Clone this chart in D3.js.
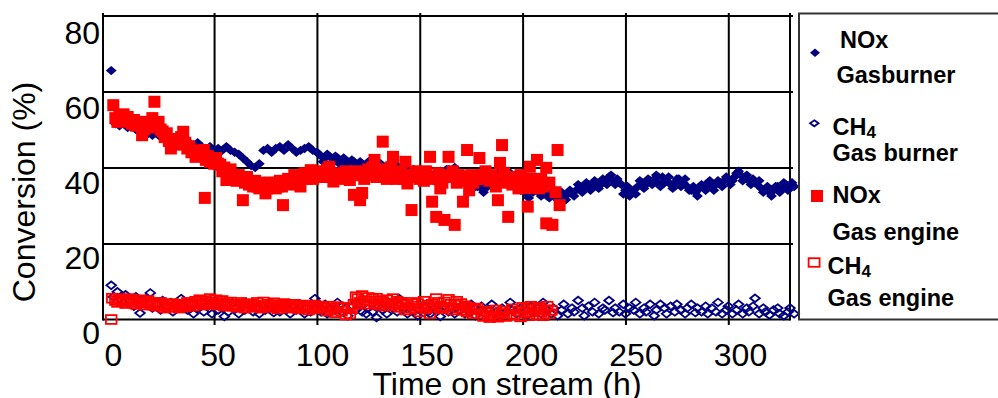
<!DOCTYPE html>
<html>
<head>
<meta charset="utf-8">
<script src="https://cdn.jsdelivr.net/npm/d3@7"></script>
<style>
  body { margin: 0; background: #fff; }
  svg { display: block; font-family: "Liberation Sans", Arial, sans-serif; }
</style>
</head>
<body>
<svg id="chart" width="998" height="398"></svg>
<script>
const xTicks = [0, 50, 100, 150, 200, 250, 300];
const yTicks = [0, 20, 40, 60, 80];

// [time on stream (h), conversion (%)]
const noxBurner = [
  [0,65.5],[2,51.5],[4,51],[6,52],[8,50.5],[10,51],[12,50],[14,50.5],[16,49.5],[18,49],
  [20,48.5],[22,49],[24,48],[26,48.5],[28,47.5],[30,47],[32,47.5],[34,46.5],[36,47],[38,46.5],
  [40,46],[42,46.5],[44,45.5],[46,45],[48,45.5],[50,44.5],[52,45],[54,44.5],[56,45.5],[58,44.5],
  [60,44],[62,43.5],[64,42.5],[66,41.5],[68,40.5],[70,40],[72,41],[74,44.5],[76,45],[78,44],
  [80,45],[82,45.5],[84,44.5],[86,46],[88,45],[90,44],[92,44.5],[94,45],[96,45.5],[98,44.5],
  [100,44],[102,43],[104,42.5],[106,43],[108,42],[110,42.5],[112,41.5],[114,42],[116,41],[118,41.5],
  [120,40.5],[122,41],[124,40],[126,40.5],[128,41.5],[130,40.5],[132,40],[134,40.5],[136,39.5],[138,40],
  [140,39],[142,39.5],[144,39],[146,38.5],[148,39],[150,38],[152,37.5],[154,38],[156,37.5],[158,38.5],
  [160,39],[162,38.5],[164,39.5],[166,39],[168,38.5],[170,37.5],[172,36.5],[174,35.5],[176,36.5],[178,35],
  [180,34.5],[182,36],[184,37.5],[186,38],[188,38.5],[190,39],[192,38.5],[194,37.5],[196,36.5],[198,35],
  [200,34],[202,33],[204,34.5],[206,34],[208,33.5],[210,33],[212,32.5],[214,33],[216,32.5],[218,33],
  [220,32.5],[222,33],[224,33.5],[226,34],[228,35],[230,34.5],[232,35.5],[234,35],[236,36],[238,35.5],
  [240,36.5],[242,37.5],[244,36.5],[246,37],[248,35.5],[250,34],[252,32.5],[254,34],[256,35],[258,36],
  [260,35.5],[262,36.5],[264,37],[266,36],[268,37.5],[270,36.5],[272,35.5],[274,36],[276,37],[278,36],
  [280,35],[282,34],[284,33.5],[286,34.5],[288,35],[290,36],[292,35],[294,35.5],[296,36],[298,36.5],
  [300,37],[302,36.5],[304,38.5],[306,38],[308,37],[310,36.5],[312,37],[314,35.5],[316,34.5],[318,34],
  [320,33.5],[322,34],[324,35],[326,34.5],[328,35.5],[330,35],[332,35],
  [101,43.5],[103,41.5],[105,43.5],[107,41],[109,43],[111,41],[113,42.5],[115,40.5],[117,42],[119,40],
  [121,41.5],[123,39.5],[125,41.5],[127,40],[129,39.5],[131,41],[133,39],[135,40],[137,38.5],[139,40.5],
  [141,38],[143,40],[145,38],[147,39.5],[149,37.5],[151,38.5],[153,36.5],[155,38.5],[157,36.5],[159,37.5],
  [161,38],[163,39.5],[165,38],[167,40],[169,37],[171,38],[173,35.5],[175,37],[177,35],[179,36],
  [181,33.5],[183,35],[185,36.5],[187,37],[189,37.5],[191,38],[193,39],[195,36.5],[197,37],[199,34],
  [201,35],[203,32],[205,33.5],[207,35],[209,32.5],[211,34],[213,32],[215,33.5],[217,31.5],[219,33.5],
  [221,31.5],[223,34],[225,32.5],[227,35.5],[229,33.5],[231,36],[233,34],[235,36.5],[237,34.5],[239,37],
  [241,35.5],[243,38],[245,35.5],[247,36],[249,33],[251,35],[253,33.5],[255,33],[257,36.5],[259,34.5],
  [261,37],[263,35.5],[265,38],[267,35],[269,36],[271,37.5],[273,34.5],[275,37],[277,35],[279,37],
  [281,34],[283,35],[285,32.5],[287,35.5],[289,34],[291,36.5],[293,34],[295,36.5],[297,35],[299,37.5],
  [301,35.5],[303,37.5],[305,39],[307,36.5],[309,38],[311,35.5],[313,36],[315,36.5],[317,33.5],[319,35],
  [321,32.5],[323,35],[325,33.5],[327,36],[329,34],[331,36]
];

const ch4Burner = [
  [0,9],[1,6],[3,7.3],[4,5.5],[6,4.5],[7,6.5],[9,5],[11,3.5],[12,6],[14,1.7],[15,4.5],[17,5.5],
  [19,7],[20,3],[22,4],[24,2.5],[25,5],[27,3.5],[29,4.5],[30,2],[32,3],[34,5.5],[35,3.5],[37,2.5],
  [39,4],[40,1.5],[42,3],[44,4.5],[45,2],[47,3.5],[49,1.5],[50,4],[52,2.5],[54,3],[55,0.8],[57,2],
  [59,4.5],[60,3],[62,1.5],[64,3.5],[65,2.5],[67,4],[69,2],[70,3],[72,1.5],[74,3.5],[75,2.5],[77,4.5],
  [79,1.8],[80,3],[82,2],[84,4],[85,2.5],[87,1.5],[89,3.5],[90,2.5],[92,4],[94,1.5],[95,3],[97,2],
  [99,5.5],[100,3],[102,2],[104,4],[105,1.5],[107,3],[109,2.5],[110,4.5],[112,2],[114,3],[115,1],[117,3.5],
  [119,2.5],[120,4],[122,2],[124,1.5],[125,3],[127,2],[129,0.5],[130,3.5],[132,2.5],[134,1.5],[135,4],[137,3],
  [139,2],[140,5.5],[142,3],[144,1.5],[145,3.5],[147,2],[149,1],[150,2.5],[152,3.5],[154,2],[155,1.5],[157,3],
  [159,2.5],[160,0.8],[162,3.5],[164,2],[165,3],[167,1.5],[169,2.5],[170,3.5],[172,1.5],[174,2.5],[175,4],[177,1],
  [179,2.5],[180,3.5],[182,1.5],[184,2.5],[185,4],[187,2],[189,1],[190,3],[192,2],[194,4.5],[195,2.5],[197,1.5],
  [199,3],[200,2],[202,1],[204,3.5],[205,2],[207,3],[209,1.5],[210,4.5],[212,2.5],[214,1.5],[215,3],[217,1],
  [219,2.5],[220,4],[222,1.5],[224,3],[225,2],[227,5],[229,3],[230,1],[232,3.5],[234,2],[235,4.5],[237,1.5],
  [239,3],[240,2.5],[242,5],[244,1.8],[245,3],[247,2],[249,4],[250,1.5],[252,3],[254,2.5],[255,4.5],[257,1.5],
  [259,3],[260,2],[262,4],[264,1],[265,2.5],[267,4],[269,3],[270,1.5],[272,3.5],[274,2],[275,4],[277,2.5],
  [279,1.5],[280,3],[282,4],[284,1.8],[285,3],[287,2],[289,3.5],[290,1.5],[292,3],[294,2],[295,4.5],[297,1.5],
  [299,2.5],[300,3.5],[302,1.5],[304,2.5],[305,4],[307,1.5],[309,3],[310,2],[312,3.5],[313,5.6],[315,1.5],[317,3],
  [318,2],[320,1.2],[322,2.5],[324,3],[325,1.5],[327,1],[329,2],[330,3],[332,1.5]
];

const noxEngine = [
  [1,56.4],[2,53],[3,52],[4,53.5],[5,52.5],[6,54],[7,53],[8,53.3],[9,52],[10,51.5],[11,52.5],[12,51],
  [13,52],[14,52],[15,48.5],[16,50],[17,51],[18,50.5],[19,52],[20,53],[21,57.3],[22,51],[23,52],[24,50],
  [25,49.5],[26,48],[27,49],[28,47],[29,45],[30,46.5],[31,47.5],[32,46],[33,47],[34,48],[35,49.4],[36,46.5],
  [37,45],[38,45.5],[39,44],[40,44.5],[41,42.8],[42,43.5],[43,44],[44,43],[45,44.6],[45.5,32],[46,42],[47,43],
  [48,41.5],[49,42],[50,41],[51,42.5],[52,41],[53,40.7],[54,39],[55,40],[56,36.7],[57,38.5],[58,39.5],[59,37.5],
  [60,38],[61,36.5],[62,38],[63,37],[64,31.4],[65,36],[66,37.5],[67,35.5],[68,36],[69,35],[70,36.5],[71,35],
  [72,34.5],[73,36],[74,35.5],[75,33.2],[76,34.5],[77,36],[78,35.5],[79,36],[80,34.5],[81,35],[82,36.5],[83,35],
  [83.5,30.1],[85,36],[86,37],[87,35.5],[88,36.7],[89,38],[90,36],[91,37],[92,35],[93,37.5],[94,38.5],[95,37],
  [96,38],[97,39.3],[98,37],[99,38.5],[100,37.6],[101,38],[102,39],[103,37.5],[104,38.5],[105,39.5],[106,40.2],[107,38],
  [108,36.3],[109,37.5],[110,38.5],[112,37],[113,38],[114,39],[115,37.5],[116,36.7],[117,38],[118,32.8],[119,39],[120,38],
  [121,31.4],[122,33.3],[123,37],[124,38.5],[125,39.5],[126,38],[127,40],[128,42],[129,37.5],[130,39],[131,38],[132,46.8],
  [133,39.5],[134,37],[135,38.5],[136,40],[137,42.8],[138,38],[139,37],[140,39],[141,38.5],[142,37],[143,41.5],[144,35.8],
  [145,38],[146,28.8],[147,37.5],[148,39],[149,38],[150,37],[151,38.5],[152,36.5],[153,39],[155,42.8],[156,31],[157,37],
  [158,27],[159,38.5],[160,34.5],[161,36],[162,26.2],[163,38],[164,42.8],[165,37.5],[166,39],[167,24.9],[168,36],[169,38],
  [170,37.5],[171,31],[172,36.5],[173,44.6],[174,34],[175,38],[176,36],[177,37],[179,42.5],[180,38],[181,37],[182,39],
  [183,37.5],[184,36.5],[185,38],[186,37],[187,35],[188,31.4],[189,41.2],[190,45.9],[191,38.5],[192,36],[193,27],[194,37],
  [195,35.5],[196,37.5],[197,36],[198,34.5],[199,38],[200,36],[201,37],[202,34.6],[202.5,29.7],[203.5,40.2],[204,37],[205,35],
  [206,36.5],[207,42],[208,34.5],[209,37],[210,35],[211.5,39.9],[211.5,25.3],[213,36],[214.5,24.9],[216,33.5],[217,44.6],[218,30.1]
];

const ch4Engine = [
  [0,0],[0.5,5.6],[2,5],[3,4.5],[4,5.5],[5,4.8],[6,5.2],[7,4.2],[8,4.8],[9,5.5],[10,4.5],[11,5],
  [12,4],[13,4.6],[14,5.2],[15,4.3],[16,3.8],[17,4.5],[18,5],[19,4.2],[20,3.8],[21,4.5],[22,3.5],[23,4],
  [24,4.5],[25,3.5],[26,3],[27,4],[28,3.2],[29,3.8],[30,4.2],[31,3.3],[32,3.8],[33,3],[34,3.5],[35,4],
  [36,3.3],[37,4.5],[38,3.8],[39,4.2],[40,3.5],[41,4.8],[42,4],[43,5.2],[44,4.5],[45,3.8],[46,5],[47,4.2],
  [48,5.5],[49,4.6],[50,4],[51,5.2],[52,3.8],[53,4.5],[54,5],[55,3.5],[56,4.2],[57,3.8],[58,4.6],[59,3.5],
  [60,4],[61,3.2],[62,3.8],[63,4.5],[64,3.5],[65,3],[66,4.2],[67,3.5],[68,4],[69,3.2],[70,3.8],[71,4.5],
  [72,3.4],[73,3],[74,4.6],[75,3.6],[76,4],[77,3.2],[78,3.8],[79,4.4],[80,3.3],[81,2.8],[82,3.9],[83,3.4],
  [84,4.2],[85,3.6],[86,3],[87,3.8],[88,3.2],[89,4],[90,3.5],[91,2.8],[92,3.4],[93,3.8],[94,3],[95,3.6],
  [96,2.5],[97,3.4],[98,3.1],[99,3.8],[100,2.8],[102,3.5],[104,3],[105,2.2],[106,3.5],[107,2.5],[108,3],[109,1.8],
  [110,3.4],[112,2.2],[113,3.2],[114,1.2],[115,3],[116,1.5],[117,2.8],[118,4],[119,6],[120,5.5],[121,4.5],[122,6.3],
  [123,5],[124,4],[125,5.8],[126,4.8],[127,5.5],[128,4.2],[129,5.6],[130,3.8],[131,5],[132,4.5],[133,3.5],[134,5.2],
  [135,4.3],[136,3.6],[137,5.5],[138,4],[139,4.8],[140,3.2],[141,4.5],[142,3.8],[143,2.5],[144,4],[145,3],[146,4.5],
  [147,3.5],[148,2.8],[149,4.2],[150,2],[151,3.4],[152,4.8],[153,2.8],[154,3.8],[155,1.5],[156,4],[157,3.2],[158,5.5],
  [159,4.5],[160,3.5],[161,2.8],[162,4.6],[163,3.2],[164,5.3],[165,4],[166,2.5],[167,3.8],[168,4.8],[169,3],[170,4.2],
  [171,2.4],[172,3.6],[173,2],[174,3.2],[175,2.8],[176,1.5],[177,2.6],[178,3],[180,1.5],[181,0.8],[182,2.2],[183,1.2],
  [184,0.5],[185,1.8],[186,1],[187,2.5],[188,0.6],[190,1.6],[191,2.2],[192,0.8],[194,1.4],[195,2.8],[196,1.2],[198,2.2],
  [199,0.7],[200,3.2],[201,1.8],[202,2.8],[203,1],[204,3.5],[205,2],[206,2.8],[207,1.2],[208,3.2],[209,2],[210,1],
  [211,2.6],[212,3.5],[213,1.5],[214,2.4]
];

const NAVY = '#000080';
const RED = '#ff0000';

const svg = d3.select('#chart');

const x = d3.scaleLinear().domain([-4, 330]).range([103, 790]);
const y = d3.scaleLinear().domain([0, 80]).range([319.5, 15.5]);
// tick labels in the original sit a little off the grid lines
const xLab = d3.scaleLinear().domain([0, 300]).range([113, 740]);
const yLab = d3.scaleLinear().domain([0, 80]).range([343, 43]);

// grid
const xGrid = svg.append('g')
  .attr('transform', 'translate(0,325)')
  .call(d3.axisBottom(x).tickValues(xTicks.slice(1)).tickSize(-312).tickFormat(''));
const yGrid = svg.append('g')
  .attr('transform', 'translate(103,0)')
  .call(d3.axisLeft(y).tickValues(yTicks.slice(1)).tickSize(-690).tickFormat(''));
[xGrid, yGrid].forEach(g => {
  g.select('.domain').remove();
  g.selectAll('line').attr('stroke', '#000').attr('stroke-width', 2);
});

// frame
const frame = svg.append('g').attr('stroke', '#000').attr('stroke-width', 2);
frame.append('line').attr('x1', 103).attr('x2', 103).attr('y1', 13).attr('y2', y(0) + 1);
frame.append('line').attr('x1', 103).attr('x2', x(330)).attr('y1', y(0)).attr('y2', y(0));
frame.append('line').attr('x1', x(330)).attr('x2', x(330)).attr('y1', 13).attr('y2', y(0) + 1);

// tick labels
const xAxis = svg.append('g')
  .call(d3.axisBottom(xLab).tickValues(xTicks).tickSize(0).tickFormat(d3.format('d')));
xAxis.select('.domain').remove();
xAxis.selectAll('text')
  .attr('y', 366).attr('dy', null)
  .attr('font-size', 32).attr('font-family', null).attr('fill', '#000');

const yAxis = svg.append('g')
  .attr('transform', 'translate(100,0)')
  .call(d3.axisLeft(yLab).tickValues(yTicks).tickSize(0).tickFormat(d3.format('d')));
yAxis.select('.domain').remove();
yAxis.selectAll('text')
  .attr('x', 0).attr('dy', null)
  .attr('font-size', 32).attr('font-family', null).attr('fill', '#000');

// axis titles
svg.append('text')
  .attr('x', 507).attr('y', 395)
  .attr('text-anchor', 'middle').attr('font-size', 32)
  .text('Time on stream (h)');
svg.append('text')
  .attr('transform', 'translate(35,192) rotate(-90)')
  .attr('text-anchor', 'middle').attr('font-size', 32)
  .text('Conversion (%)');

// markers
const diamond = (w, h) => `M0,${-h}L${w},0L0,${h}L${-w},0Z`;

svg.append('g').selectAll('path')
  .data(noxBurner).enter().append('path')
  .attr('d', diamond(5.4, 4.7))
  .attr('transform', d => `translate(${x(d[0])},${y(d[1])})`)
  .attr('fill', NAVY);

svg.append('g').selectAll('path')
  .data(ch4Burner).enter().append('path')
  .attr('d', diamond(4.8, 3.8))
  .attr('transform', d => `translate(${x(d[0])},${y(d[1])})`)
  .attr('fill', 'none').attr('stroke', NAVY).attr('stroke-width', 1.8);

svg.append('g').selectAll('rect')
  .data(noxEngine).enter().append('rect')
  .attr('x', d => x(d[0]) - 6).attr('y', d => y(d[1]) - 6)
  .attr('width', 12).attr('height', 12)
  .attr('fill', RED);

svg.append('g').selectAll('rect')
  .data(ch4Engine).enter().append('rect')
  .attr('x', d => x(d[0]) - 5.3).attr('y', d => y(d[1]) - 4.4)
  .attr('width', 10.6).attr('height', 8.8)
  .attr('fill', 'none').attr('stroke', RED).attr('stroke-width', 1.8);

// legend
const legend = svg.append('g');
legend.append('rect')
  .attr('x', 799).attr('y', 13.5).attr('width', 210).attr('height', 306)
  .attr('fill', 'none').attr('stroke', '#333').attr('stroke-width', 2);

legend.append('path').attr('d', diamond(5, 4.3))
  .attr('transform', 'translate(815,52.7)').attr('fill', NAVY);
legend.append('path').attr('d', diamond(4.2, 3))
  .attr('transform', 'translate(814.3,123.3)')
  .attr('fill', 'none').attr('stroke', NAVY).attr('stroke-width', 1.8);
legend.append('rect').attr('x', 811).attr('y', 190).attr('width', 12).attr('height', 12).attr('fill', RED);
legend.append('rect').attr('x', 808.6).attr('y', 258.2).attr('width', 11).attr('height', 8.6)
  .attr('fill', 'none').attr('stroke', RED).attr('stroke-width', 1.8);

const labels = [
  { x: 840, y: 47.5, t: 'NOx' },
  { x: 836.5, y: 83, t: 'Gasburner' },
  { x: 832.5, y: 135, t: 'CH', sub: '4' },
  { x: 832.5, y: 160.5, t: 'Gas burner' },
  { x: 832.5, y: 203, t: 'NOx' },
  { x: 832.5, y: 240, t: 'Gas engine' },
  { x: 827.5, y: 274, t: 'CH', sub: '4' },
  { x: 827.5, y: 306, t: 'Gas engine' }
];
labels.forEach(l => {
  const t = legend.append('text')
    .attr('x', l.x).attr('y', l.y)
    .attr('font-size', 23.5).attr('font-weight', 'bold')
    .text(l.t);
  if (l.sub) {
    t.append('tspan').attr('font-size', 17).attr('dy', 2.5).text(l.sub);
  }
});
</script>
</body>
</html>
